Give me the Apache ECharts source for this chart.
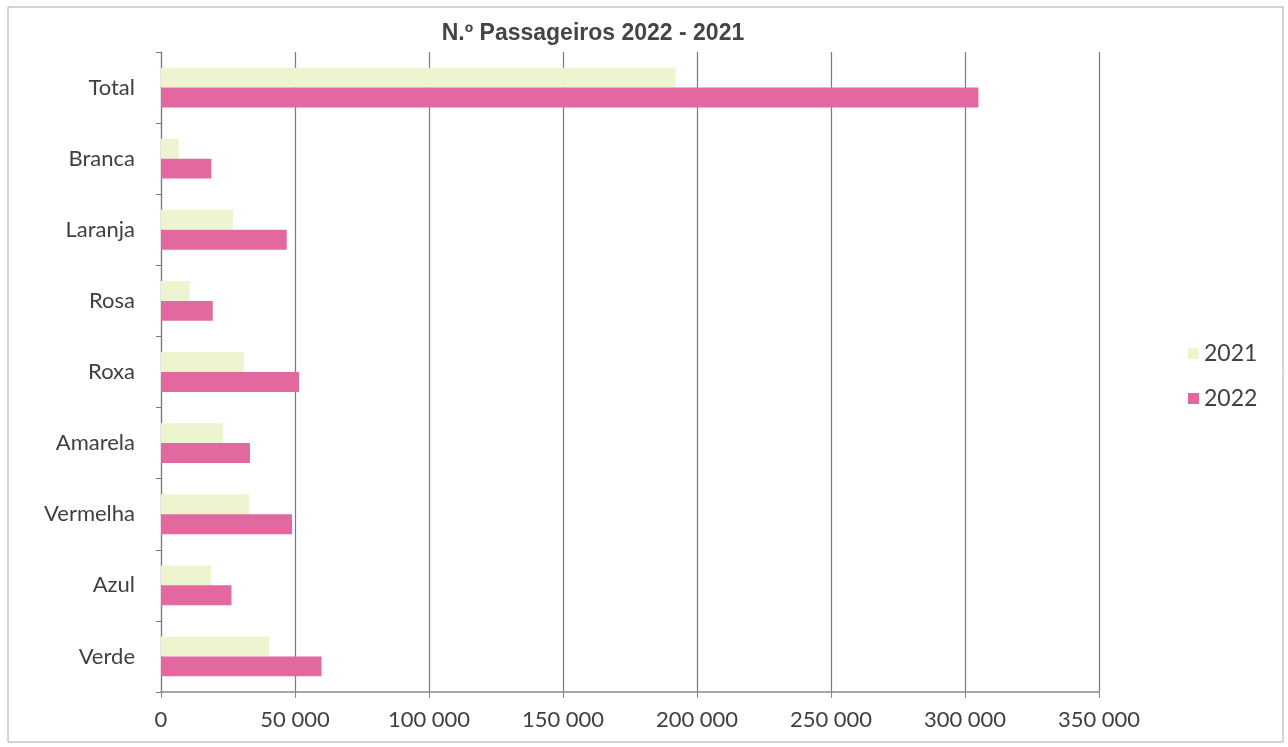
<!DOCTYPE html>
<html><head><meta charset="utf-8">
<script src="https://cdn.jsdelivr.net/npm/echarts@6/dist/echarts.min.js"></script>
<style>html,body{margin:0;padding:0;background:#fff}#c{width:1288px;height:747px}</style>
</head><body><div id="c"></div>
<script>
const categories = ['Verde','Azul','Vermelha','Amarela','Roxa','Rosa','Laranja','Branca','Total'];
const values2021 = [40400, 18700, 33000, 23200, 30900, 10700, 26900, 6600, 192000];
const values2022 = [59900, 26300, 48900, 33200, 51500, 19300, 46900, 18800, 305000];
const seriesNames = ['2021','2022'];
const titleText = 'N.º Passageiros 2022 - 2021';

const fmt = v => String(v).replace(/\B(?=(\d{3})+(?!\d))/g, ' ');
const chart = echarts.init(document.getElementById('c'));
chart.setOption({
  animation:false,
  backgroundColor:'#fff',
  title:{text:titleText,left:588,top:17,textAlign:'center',
    textStyle:{fontFamily:'Liberation Sans, Arial',fontWeight:'bold',fontSize:23,color:'#454545'}},
  graphic:[{type:'rect',shape:{x:8,y:7,width:1275,height:735},style:{fill:'none',stroke:'#a8a8a8',lineWidth:1},silent:true}],
  legend:{orient:'vertical',left:1183,top:337,itemWidth:11,itemHeight:11,itemGap:22,icon:'rect',
    textStyle:{fontFamily:'Lato',fontSize:23,color:'#404040'},data:seriesNames},
  grid:{left:161,right:189,top:52,bottom:55},
  xAxis:{type:'value',min:0,max:350000,interval:50000,
    axisLine:{show:true,lineStyle:{color:'#8a8a8a',width:1.5}},
    axisTick:{show:true,length:6,lineStyle:{color:'#8a8a8a'}},
    splitLine:{show:true,lineStyle:{color:'#7a7a7a',width:1.2}},
    axisLabel:{formatter:fmt,fontFamily:'Lato',fontSize:22,color:'#404040',margin:17}},
  yAxis:{type:'category',data:categories,
    axisLine:{show:true,lineStyle:{color:'#7a7a7a',width:1.2}},
    axisTick:{show:true,length:5,lineStyle:{color:'#7a7a7a'}},
    axisLabel:{fontFamily:'Lato',fontSize:22,color:'#404040',margin:26}},
  series:[
    {name:seriesNames[0],type:'bar',data:values2021,barGap:'0%',barCategoryGap:'44%',itemStyle:{color:'#EEF4D0'}},
    {name:seriesNames[1],type:'bar',data:values2022,barGap:'0%',barCategoryGap:'44%',itemStyle:{color:'#E2689F'}}
  ]
});
</script></body></html>
